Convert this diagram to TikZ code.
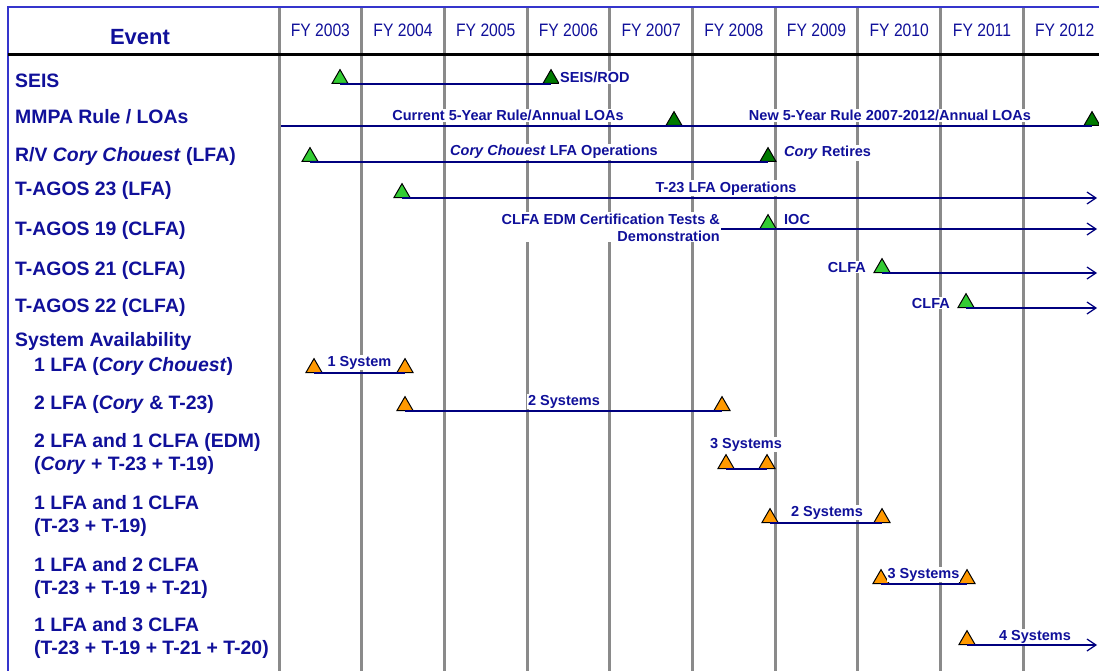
\documentclass[tikz,border=0pt]{standalone}
\usepackage{fontspec}
\setmainfont{Liberation Sans}
\newfontfamily\narrowfont[FakeStretch=0.87]{Liberation Sans}
\usetikzlibrary{shapes.geometric,arrows.meta}
\definecolor{navy}{HTML}{10109A}
\definecolor{barblue}{HTML}{00007F}
\definecolor{frameblue}{HTML}{3535CC}
\definecolor{gridgray}{HTML}{8A8A8A}
\definecolor{litegreen}{HTML}{33CC33}
\definecolor{darkgreen}{HTML}{007A00}
\definecolor{amber}{HTML}{FF9900}

\begin{document}
\begin{tikzpicture}[x=1pt,y=-1pt,
  rowlbl/.style={anchor=base west,align=left,inner sep=0pt,text=navy,
    font=\fontsize{19.4}{23}\selectfont\bfseries},
  yrlbl/.style={anchor=base,inner sep=0pt,text=navy,font=\fontsize{18}{20}\narrowfont},
  barlbl/.style={fill=white,inner sep=1pt,text=navy,
    font=\fontsize{14.5}{17}\selectfont\bfseries},
  tri/.style={regular polygon,regular polygon sides=3,minimum size=18.5pt,
    inner sep=0pt,draw=black,line width=1pt,anchor=side 2},
  bar/.style={draw=barblue,line width=1.2pt},
  barend/.style={bar,-{Straight Barb[length=9pt,width=12pt,line width=1.2pt]}},
  colline/.style={draw=gridgray,line width=3pt}]
  \useasboundingbox (0,0) rectangle (1099,671);
  \fill[white] (0,0) rectangle (1099,671);

  % year columns
  \foreach \i in {0,...,9} {
    \draw[colline] ({279+82.7*\i},7) -- ({279+82.7*\i},671);
    \pgfmathtruncatemacro\yr{2003+\i}
    \node[yrlbl] (fy\yr) at ({320.35+82.7*\i},37) {FY \yr};
  }
  \draw[frameblue,line width=2pt] (8,671) -- (8,7) -- (1099,7);
  \draw[black,line width=3pt] (8,55) -- (1099,55);
  \node[anchor=base,inner sep=0pt,text=navy,font=\fontsize{22}{24}\selectfont\bfseries]
    (event) at (140,45) {Event};

  % events (base = last line)
  \foreach \nm/\xx/\yy/\txt in {
      seis/15/88/{SEIS},
      mmpa/15/124/{MMPA Rule / LOAs},
      cory/15/161/{R/V \textit{Cory Chouest} (LFA)},
      tag23/15/196/{T-AGOS 23 (LFA)},
      tag19/15/235/{T-AGOS 19 (CLFA)},
      tag21/15/275/{T-AGOS 21 (CLFA)},
      tag22/15/312/{T-AGOS 22 (CLFA)},
      avail/15/346/{System Availability},
      sysA/34/371/{1 LFA (\textit{Cory Chouest})},
      sysB/34/409/{2 LFA (\textit{Cory} \& T-23)},
      sysC/34/470/{2 LFA and 1 CLFA (EDM)\\(\textit{Cory} + T-23 + T-19)},
      sysD/34/532/{1 LFA and 1 CLFA\\(T-23 + T-19)},
      sysE/34/594/{1 LFA and 2 CLFA\\(T-23 + T-19 + T-21)},
      sysF/34/654/{1 LFA and 3 CLFA\\(T-23 + T-19 + T-21 + T-20)}}
    \node[rowlbl] (\nm) at (\xx,\yy) {\txt};

  % milestones
  \node[tri,fill=litegreen] (seisA) at (340,84) {};
  \node[tri,fill=darkgreen] (seisB) at (551,84) {};
  \node[tri,fill=darkgreen] (mmpaA) at (674,126) {};
  \node[tri,fill=darkgreen] (mmpaB) at (1092,126) {};
  \node[tri,fill=litegreen] (coryA) at (310,162) {};
  \node[tri,fill=darkgreen] (coryB) at (768,162) {};
  \node[tri,fill=litegreen] (t23A) at (402,198) {};
  \node[tri,fill=litegreen] (t19A) at (768,229) {};
  \node[tri,fill=litegreen] (t21A) at (882,273) {};
  \node[tri,fill=litegreen] (t22A) at (966,308) {};
  \node[tri,fill=amber] (aA) at (314,373) {};
  \node[tri,fill=amber] (aB) at (405,373) {};
  \node[tri,fill=amber] (bA) at (405,411) {};
  \node[tri,fill=amber] (bB) at (722,411) {};
  \node[tri,fill=amber] (cA) at (726,469) {};
  \node[tri,fill=amber] (cB) at (767,469) {};
  \node[tri,fill=amber] (dA) at (770,523) {};
  \node[tri,fill=amber] (dB) at (882,523) {};
  \node[tri,fill=amber] (eA) at (881,584) {};
  \node[tri,fill=amber] (eB) at (967,584) {};
  \node[tri,fill=amber] (fA) at (967,645) {};

  \coordinate (mmpaL) at (281,126);
  \coordinate (t23E) at (1097,198);
  \coordinate (t19E) at (1097,229);
  \coordinate (t21E) at (1097,273);
  \coordinate (t22E) at (1097,308);
  \coordinate (fE) at (1097,645);

  % labels
  \node[barlbl,anchor=base west] (seisL) at (559,83) {SEIS/ROD};
  \node[barlbl,anchor=base] (mmpaL1) at (508,121) {Current 5-Year Rule/Annual LOAs};
  \node[barlbl,anchor=base] (mmpaL2) at (890,121) {New 5-Year Rule 2007-2012/Annual LOAs};
  \node[barlbl,anchor=base] (coryL) at (554,156) {\textit{Cory Chouest} LFA Operations};
  \node[barlbl,anchor=base west] (coryR) at (783,157) {\textit{Cory} Retires};
  \node[barlbl,anchor=base] (t23L) at (726,192) {T-23 LFA Operations};
  \node[barlbl,anchor=base east,align=right] (edmL) at (721,241)
    {CLFA EDM Certification Tests \&\\Demonstration};
  \node[barlbl,anchor=base west] (iocL) at (783,224) {IOC};
  \node[barlbl,anchor=base east] (t21L) at (867,272) {CLFA};
  \node[barlbl,anchor=base east] (t22L) at (951,308) {CLFA};
  \node[barlbl,anchor=base] (aL) at (359.5,366) {1 System};
  \node[barlbl,anchor=base] (bL) at (564,405) {2 Systems};
  \node[barlbl,anchor=base] (cL) at (746,448) {3 Systems};
  \node[barlbl,anchor=base] (dL) at (827,516) {2 Systems};
  \node[barlbl,anchor=base] (eL) at (923.5,578) {3 Systems};
  \node[barlbl,anchor=base] (fL) at (1035,640) {4 Systems};

  % spans
  \draw[bar] (seisA.side 2) -- (seisB.side 2);
  \draw[bar] (mmpaL) -- (mmpaA.side 2) -- (mmpaB.side 2);
  \draw[bar] (coryA.side 2) -- (coryB.side 2);
  \draw[barend] (t23A.side 2) -- (t23E);
  \draw[barend] (edmL.east |- t19A.side 2) -- (t19A.side 2) -- (t19E);
  \draw[barend] (t21A.side 2) -- (t21E);
  \draw[barend] (t22A.side 2) -- (t22E);
  \draw[bar] (aA.side 2) -- (aB.side 2);
  \draw[bar] (bA.side 2) -- (bB.side 2);
  \draw[bar] (cA.side 2) -- (cB.side 2);
  \draw[bar] (dA.side 2) -- (dB.side 2);
  \draw[bar] (eA.side 2) -- (eB.side 2);
  \draw[barend] (fA.side 2) -- (fE);
\end{tikzpicture}
\end{document}
